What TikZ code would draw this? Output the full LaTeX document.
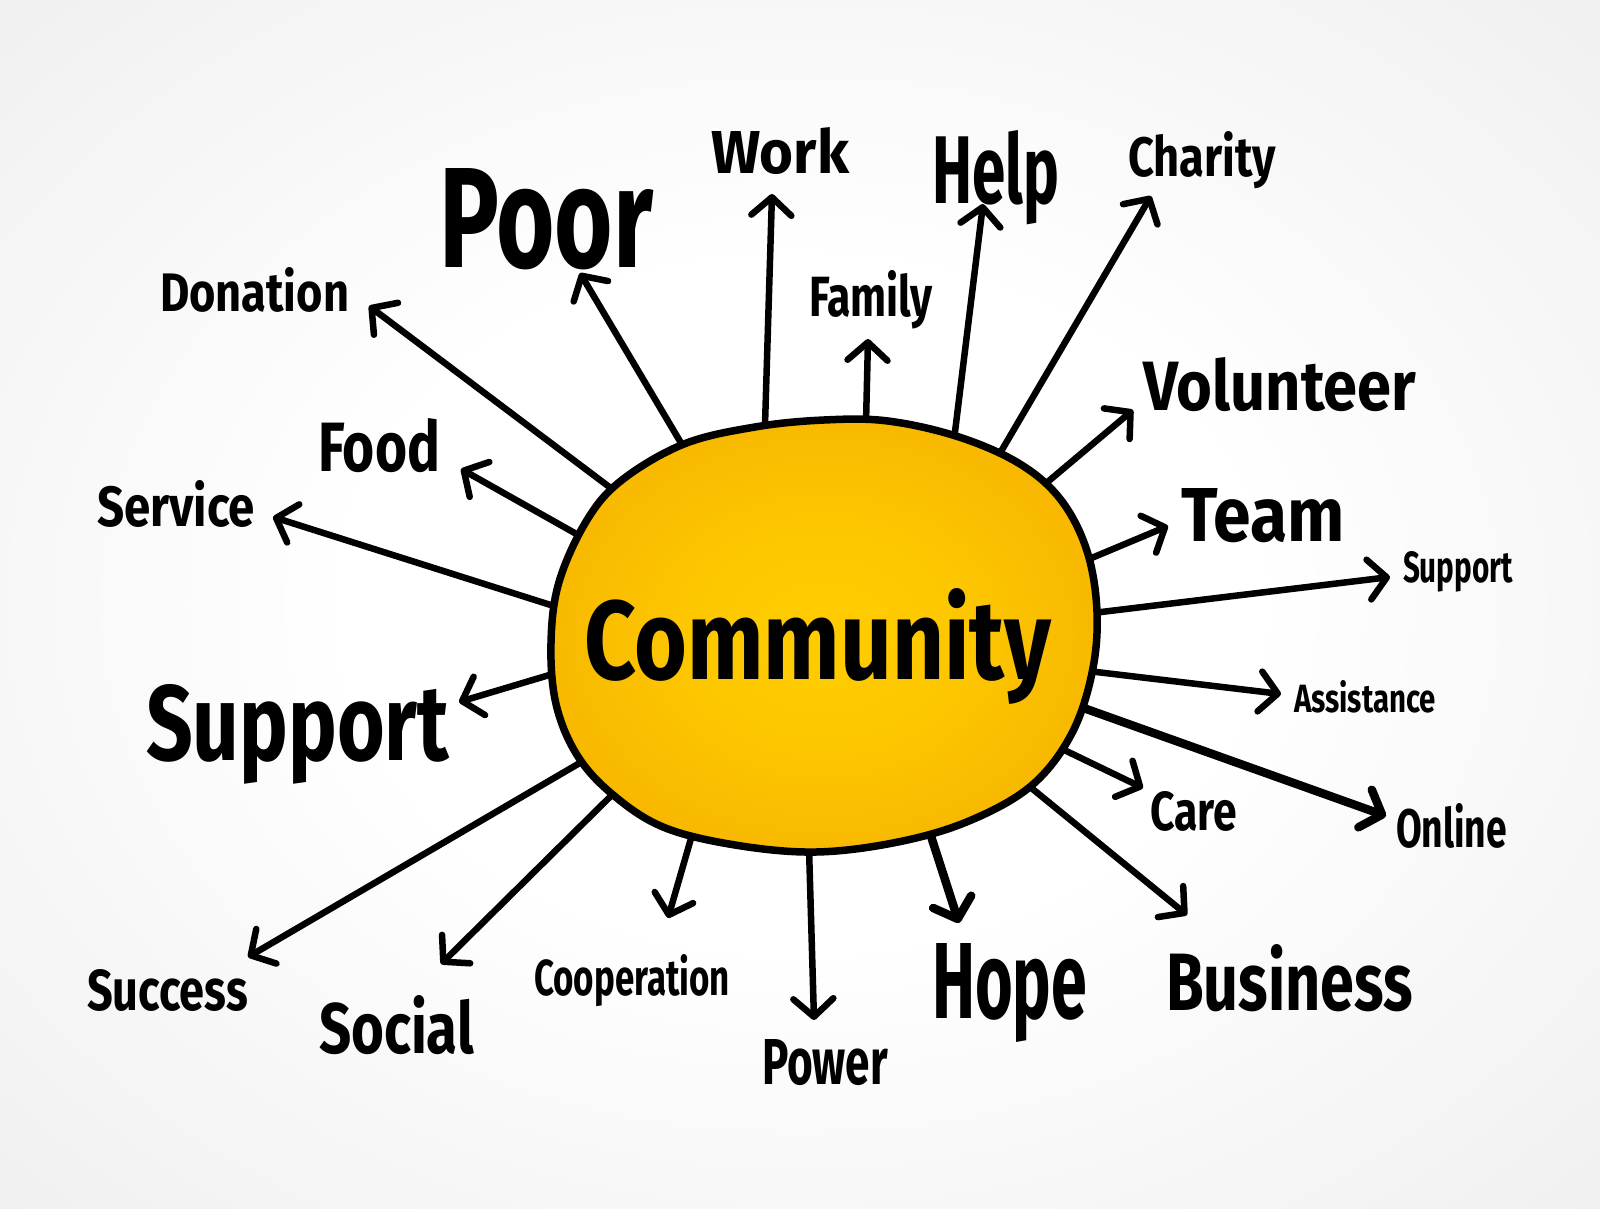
\documentclass[tikz,border=0pt]{standalone}
\usepackage{fontspec}
\setmainfont{Fira Sans}
\usepackage{graphicx}
\usetikzlibrary{arrows.meta}
\definecolor{sunin}{HTML}{FFCC00}
\definecolor{sunout}{HTML}{EE9E00}
\pgfdeclareradialshading{bgshade}{\pgfpoint{0bp}{0bp}}{color(0bp)=(white); color(14bp)=(white); color(36bp)=(black!6); color(72bp)=(black!10)}
\pgfdeclareradialshading{sunshade}{\pgfpoint{0bp}{0bp}}{color(0bp)=(sunin); color(12bp)=(sunin!90!sunout); color(50bp)=(sunout); color(72bp)=(sunout)}
\tikzset{
  lab/.style={anchor=base west, inner sep=0pt, outer sep=0pt},
  spoke/.style={line width=6.5pt, line cap=round, line join=round,
    -{Straight Barb[length=18pt,width=40pt,line cap=round,line join=round]}},
  thick spoke/.style={spoke, line width=8.5pt},
}
\newcommand{\lbl}[3]{\resizebox{#1pt}{#2pt}{\bfseries #3}}
\begin{document}
\begin{tikzpicture}[x=1pt,y=-1pt]
\useasboundingbox (0,0) rectangle (1600,1209);
\shade[shading=bgshade] (0,0) rectangle (1600,1209);

% spoke coordinates (start on hub, tip near label)
\coordinate (sWork) at (765,425);   \coordinate (tWork) at (772,194);
\coordinate (sPoor) at (684,448);   \coordinate (tPoor) at (580,273);
\coordinate (sFam) at (866,423);    \coordinate (tFam) at (868,339);
\coordinate (sHelp) at (954,440);   \coordinate (tHelp) at (983,204);
\coordinate (sChar) at (996,460);   \coordinate (tChar) at (1151,196);
\coordinate (sVol) at (1038,490);   \coordinate (tVol) at (1133,410);
\coordinate (sTeam) at (1082,562);  \coordinate (tTeam) at (1168,526);
\coordinate (sSupR) at (1093,613);  \coordinate (tSupR) at (1390,577);
\coordinate (sAss) at (1088,671);   \coordinate (tAss) at (1281,694);
\coordinate (sOnl) at (1078,706);   \coordinate (tOnl) at (1386,816);
\coordinate (sCare) at (1058,747);  \coordinate (tCare) at (1143,788);
\coordinate (sBus) at (1024,782);   \coordinate (tBus) at (1187,915);
\coordinate (sHope) at (929,830);   \coordinate (tHope) at (959,923);
\coordinate (sPow) at (809,848);    \coordinate (tPow) at (814,1020);
\coordinate (sCoop) at (692,835);   \coordinate (tCoop) at (668,918);
\coordinate (sSoc) at (619,788);    \coordinate (tSoc) at (441,964);
\coordinate (sSuc) at (590,757);    \coordinate (tSuc) at (248,957);
\coordinate (sSupL) at (556,673);   \coordinate (tSupL) at (459,702);
\coordinate (sServ) at (557,607);   \coordinate (tServ) at (273,517);
\coordinate (sFood) at (580,536);   \coordinate (tFood) at (461,469);
\coordinate (sDon) at (616,492);    \coordinate (tDon) at (369,306);

\draw[spoke] (sWork) -- (tWork);
\draw[spoke] (sPoor) -- (tPoor);
\draw[spoke] (sFam) -- (tFam);
\draw[spoke] (sHelp) -- (tHelp);
\draw[spoke] (sChar) -- (tChar);
\draw[spoke] (sVol) -- (tVol);
\draw[spoke] (sTeam) -- (tTeam);
\draw[spoke] (sSupR) -- (tSupR);
\draw[spoke] (sAss) -- (tAss);
\draw[thick spoke] (sOnl) -- (tOnl);
\draw[spoke] (sCare) -- (tCare);
\draw[spoke] (sBus) -- (tBus);
\draw[thick spoke] (sHope) -- (tHope);
\draw[spoke] (sPow) -- (tPow);
\draw[spoke] (sCoop) -- (tCoop);
\draw[spoke] (sSoc) -- (tSoc);
\draw[spoke] (sSuc) -- (tSuc);
\draw[spoke] (sSupL) -- (tSupL);
\draw[spoke] (sServ) -- (tServ);
\draw[spoke] (sFood) -- (tFood);
\draw[spoke] (sDon) -- (tDon);

% hub
\path[draw=black, line width=7.5pt, shading=sunshade]
  plot[smooth cycle, tension=0.6] coordinates {
    (824,420) (755,427) (684,444) (622,480) (587,520) (559,582)
    (551,643) (556,704) (577,755) (612,794) (663,827) (735,845)
    (816,852) (898,842) (969,821) (1031,786) (1071,735) (1092,673)
    (1097,612) (1087,551) (1061,500) (1020,464) (959,437) (888,421)};

\node[lab] (community) at (584,679) {\lbl{467}{91}{Community}};

% labels
\node[lab] (work) at (711,173) {\lbl{138}{46}{Work}};
\node[lab] (poor) at (439,267) {\lbl{214}{99}{Poor}};
\node[lab] (help) at (932,204) {\lbl{127}{73}{Help}};
\node[lab] (charity) at (1128,176) {\lbl{148}{45}{Charity}};
\node[lab] (family) at (809,316) {\lbl{124}{46}{Family}};
\node[lab] (donation) at (160,311) {\lbl{189}{44}{Donation}};
\node[lab] (volunteer) at (1143,410) {\lbl{273}{53}{Volunteer}};
\node[lab] (food) at (318,471) {\lbl{122}{53}{Food}};
\node[lab] (team) at (1181,541) {\lbl{164}{53}{Team}};
\node[lab] (service) at (97,526) {\lbl{158}{46}{Service}};
\node[lab] (supportr) at (1403,582) {\lbl{110}{31}{Support}};
\node[lab] (supportl) at (146,760) {\lbl{303}{76}{Support}};
\node[lab] (assistance) at (1294,712) {\lbl{142}{32}{Assistance}};
\node[lab] (care) at (1150,830) {\lbl{87}{39}{Care}};
\node[lab] (online) at (1396,847) {\lbl{111}{44}{Online}};
\node[lab] (success) at (87,1010) {\lbl{161}{41}{Success}};
\node[lab] (social) at (319,1053) {\lbl{155}{58}{Social}};
\node[lab] (cooperation) at (534,995) {\lbl{196}{41}{Cooperation}};
\node[lab] (power) at (762,1084) {\lbl{126}{45}{Power}};
\node[lab] (hope) at (932,1018) {\lbl{155}{75}{Hope}};
\node[lab] (business) at (1166,1010) {\lbl{247}{66}{Business}};
\end{tikzpicture}
\end{document}
